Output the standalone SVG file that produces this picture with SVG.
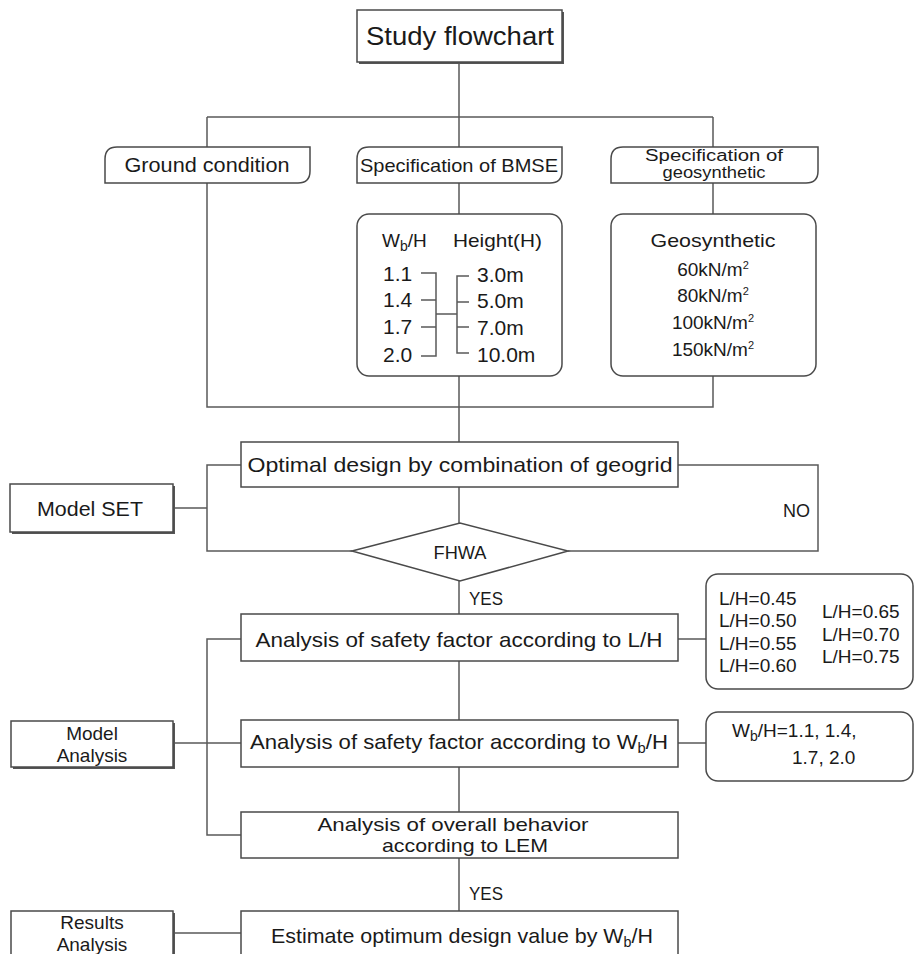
<svg xmlns="http://www.w3.org/2000/svg" width="914" height="954" viewBox="0 0 914 954">
<style>
.ln{stroke:#5a5a5a;stroke-width:1.5;fill:none}
.bx{fill:#fff;stroke:#4a4a4a;stroke-width:1.5}
.sh{fill:#555}
text{font-family:"Liberation Sans",Arial,sans-serif;fill:#1a1a1a}
.t20{font-size:21px}
.t19{font-size:19px}
.t18{font-size:18px}
.mid{text-anchor:middle}
.sub{font-size:14px}
</style>
<rect width="914" height="954" fill="#fff"/>
<g id="connectors">
<path class="ln" d="M459,62V147M207,117H713M207,117V147M713,117V147"/>
<path class="ln" d="M207,183V407H713V376M459,183V214M713,183V214M459,376V442"/>
<path class="ln" d="M459,487V523M241,465H207V551H352M173,508H207M678,465H818V551H568"/>
<path class="ln" d="M459,581V614M459,661V720M459,767V812M459,858V911"/>
<path class="ln" d="M241,639H207V835H241M173,743H241M678,639H706M678,743H706M173,933H241"/>
</g>
<g id="study">
<rect class="sh" x="359" y="12" width="205" height="52"/>
<rect class="bx" x="357" y="10" width="205" height="52"/>
<text x="460" y="45" class="mid" font-size="26" textLength="188" lengthAdjust="spacingAndGlyphs">Study flowchart</text>
</g>
<g id="ground">
<path class="bx" d="M105,183V159Q105,147 117,147H310V171Q310,183 298,183Z"/>
<text x="207" y="172" class="mid t20" textLength="165" lengthAdjust="spacingAndGlyphs">Ground condition</text>
</g>
<g id="bmse">
<path class="bx" d="M357,183V159Q357,147 369,147H562V171Q562,183 550,183Z"/>
<text x="459" y="172" class="mid t19" textLength="198" lengthAdjust="spacingAndGlyphs">Specification of BMSE</text>
</g>
<g id="geospec">
<path class="bx" d="M611,183V159Q611,147 623,147H818V171Q818,183 806,183Z"/>
<text x="714" y="161" class="mid" font-size="16" textLength="138" lengthAdjust="spacingAndGlyphs">Specification of</text>
<text x="714" y="178" class="mid" font-size="16" textLength="103" lengthAdjust="spacingAndGlyphs">geosynthetic</text>
</g>
<g id="bmse-detail">
<rect class="bx" x="357" y="214" width="205" height="162" rx="12"/>
<path class="ln" d="M421,273H436V356H421M421,300H436M421,327H436M436,314H457M469,276H457V353H469M457,302H469M457,327H469"/>
<text x="382" y="247" class="t19">W<tspan class="sub" dy="4">b</tspan><tspan dy="-4">/H</tspan></text>
<text x="453" y="247" class="t19" textLength="89" lengthAdjust="spacingAndGlyphs">Height(H)</text>
<text x="383" y="281" class="t20">1.1</text>
<text x="383" y="307" class="t20">1.4</text>
<text x="383" y="334" class="t20">1.7</text>
<text x="383" y="362" class="t20">2.0</text>
<text x="477" y="282" class="t20">3.0m</text>
<text x="477" y="308" class="t20">5.0m</text>
<text x="477" y="335" class="t20">7.0m</text>
<text x="477" y="362" class="t20">10.0m</text>
</g>
<g id="geo-detail">
<rect class="bx" x="611" y="214" width="205" height="162" rx="12"/>
<text x="713" y="247" class="mid t19" textLength="125" lengthAdjust="spacingAndGlyphs">Geosynthetic</text>
<text x="713" y="276" class="mid t19">60kN/m<tspan font-size="11" dy="-7">2</tspan></text>
<text x="713" y="302" class="mid t19">80kN/m<tspan font-size="11" dy="-7">2</tspan></text>
<text x="713" y="329" class="mid t19">100kN/m<tspan font-size="11" dy="-7">2</tspan></text>
<text x="713" y="356" class="mid t19">150kN/m<tspan font-size="11" dy="-7">2</tspan></text>
</g>
<g id="optimal">
<rect class="bx" x="241" y="442" width="437" height="45"/>
<text x="460" y="472" class="mid t20" textLength="425" lengthAdjust="spacingAndGlyphs">Optimal design by combination of geogrid</text>
</g>
<g id="modelset">
<rect class="sh" x="12" y="486" width="163" height="48"/>
<rect class="bx" x="10" y="484" width="163" height="48"/>
<text x="90" y="516" class="mid t20" textLength="106" lengthAdjust="spacingAndGlyphs">Model SET</text>
</g>
<g id="fhwa">
<polygon class="bx" points="352,551 460,523 568,551 460,581"/>
<text x="460" y="559" class="mid t18" textLength="53" lengthAdjust="spacingAndGlyphs">FHWA</text>
</g>
<text x="783" y="517" class="t18" textLength="27" lengthAdjust="spacingAndGlyphs">NO</text>
<text x="469" y="605" class="t18" textLength="34" lengthAdjust="spacingAndGlyphs">YES</text>
<g id="lh">
<rect class="bx" x="241" y="614" width="437" height="47"/>
<text x="459" y="647" class="mid t20" textLength="407" lengthAdjust="spacingAndGlyphs">Analysis of safety factor according to L/H</text>
</g>
<g id="lh-opts">
<rect class="bx" x="706" y="574" width="207" height="115" rx="12"/>
<text x="719" y="605" class="t19">L/H=0.45</text>
<text x="719" y="627" class="t19">L/H=0.50</text>
<text x="719" y="650" class="t19">L/H=0.55</text>
<text x="719" y="672" class="t19">L/H=0.60</text>
<text x="822" y="618" class="t19">L/H=0.65</text>
<text x="822" y="641" class="t19">L/H=0.70</text>
<text x="822" y="663" class="t19">L/H=0.75</text>
</g>
<g id="wbh">
<rect class="bx" x="241" y="720" width="437" height="47"/>
<text x="250" y="749" class="t20" textLength="418" lengthAdjust="spacingAndGlyphs">Analysis of safety factor according to W<tspan class="sub" dy="4">b</tspan><tspan dy="-4">/H</tspan></text>
</g>
<g id="wbh-opts">
<rect class="bx" x="706" y="712" width="207" height="69" rx="12"/>
<text x="732" y="737" class="t19">W<tspan class="sub" dy="4">b</tspan><tspan dy="-4">/H=1.1, 1.4,</tspan></text>
<text x="792" y="764" class="t19">1.7, 2.0</text>
</g>
<g id="modelanalysis">
<rect class="sh" x="13" y="723" width="162" height="46"/>
<rect class="bx" x="11" y="721" width="162" height="46"/>
<text x="92" y="740" class="mid t19">Model</text>
<text x="92" y="762" class="mid t19">Analysis</text>
</g>
<g id="overall">
<rect class="bx" x="241" y="812" width="437" height="46"/>
<text x="453" y="831" class="mid t19" textLength="271" lengthAdjust="spacingAndGlyphs">Analysis of overall behavior</text>
<text x="465" y="852" class="mid t19" textLength="166" lengthAdjust="spacingAndGlyphs">according to LEM</text>
</g>
<text x="469" y="900" class="t18" textLength="34" lengthAdjust="spacingAndGlyphs">YES</text>
<g id="results">
<rect class="sh" x="13" y="913" width="162" height="60"/>
<rect class="bx" x="11" y="911" width="162" height="60"/>
<text x="92" y="929" class="mid t19">Results</text>
<text x="92" y="951" class="mid t19">Analysis</text>
</g>
<g id="estimate">
<rect class="bx" x="241" y="911" width="437" height="60"/>
<text x="271" y="943" class="t20" textLength="382" lengthAdjust="spacingAndGlyphs">Estimate optimum design value by W<tspan class="sub" dy="4">b</tspan><tspan dy="-4">/H</tspan></text>
</g>
</svg>
